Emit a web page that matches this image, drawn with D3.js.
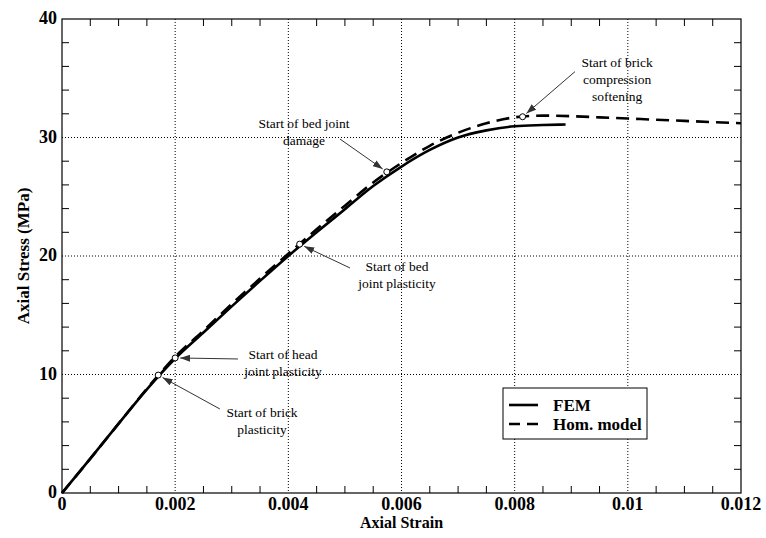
<!DOCTYPE html>
<html>
<head>
<meta charset="utf-8">
<script src="https://cdn.jsdelivr.net/npm/d3@7"></script>
<style>
  body { margin: 0; background: #fff; }
  svg { display: block; }
  text { font-family: "Liberation Serif", "Times New Roman", serif; }
</style>
</head>
<body>
<svg></svg>
<script>
// FEM curve (solid)
const femStrain = [0, 0.0005, 0.001, 0.0015, 0.002, 0.0025, 0.003, 0.0035, 0.004, 0.0045, 0.005, 0.0055, 0.006, 0.0065, 0.007, 0.0075, 0.008, 0.0085, 0.0089];
const femStress = [0, 2.9, 5.85, 8.75, 11.35, 13.55, 15.75, 17.9, 20.0, 22.0, 23.95, 25.9, 27.55, 28.95, 30.0, 30.6, 30.95, 31.05, 31.1];

// homogenised model (dashed)
const homStrain = [0, 0.0005, 0.001, 0.0015, 0.002, 0.0025, 0.003, 0.0035, 0.004, 0.0045, 0.005, 0.0055, 0.006, 0.0065, 0.007, 0.0075, 0.008, 0.0085, 0.009, 0.0095, 0.01, 0.0105, 0.011, 0.0115, 0.012];
const homStress = [0, 2.9, 5.85, 8.8, 11.5, 13.7, 15.95, 18.1, 20.2, 22.25, 24.25, 26.2, 27.85, 29.3, 30.4, 31.2, 31.7, 31.85, 31.8, 31.7, 31.6, 31.5, 31.4, 31.3, 31.2];

// event markers
const eventStrain = [0.0017, 0.002, 0.0042, 0.00574, 0.00814];
const eventStress = [9.95, 11.4, 21.0, 27.1, 31.75];
const eventText = [
  ["Start of brick", "plasticity"],
  ["Start of head", "joint plasticity"],
  ["Start of bed", "joint plasticity"],
  ["Start of bed joint", "damage"],
  ["Start of brick", "compression", "softening"]
];

const xTicks = [0, 0.002, 0.004, 0.006, 0.008, 0.01, 0.012];
const xTickLabels = ["0", "0.002", "0.004", "0.006", "0.008", "0.01", "0.012"];
const yTicks = [0, 10, 20, 30, 40];
const legendNames = ["FEM", "Hom. model"];

// label placement (data units): text centre x, first line y, arrow tail x, y
const labelLayout = [
  [0.003535, 6.84, 0.00279, 7.09],
  [0.003906, 11.73, 0.00311, 11.31],
  [0.00592, 19.16, 0.00509, 18.99],
  [0.004277, 31.22, 0.004913, 29.87],
  [0.009809, 36.4, 0.009066, 35.56]
];

const svgWidth = 766, svgHeight = 538;
const margin = { top: 19, right: 25, bottom: 45, left: 62 };
const width = svgWidth - margin.left - margin.right;
const height = svgHeight - margin.top - margin.bottom;

const svg = d3.select("svg")
    .attr("width", svgWidth)
    .attr("height", svgHeight);

svg.append("defs").append("marker")
    .attr("id", "arrow")
    .attr("markerUnits", "userSpaceOnUse")
    .attr("viewBox", "0 0 10 7")
    .attr("refX", 10).attr("refY", 3.5)
    .attr("markerWidth", 10).attr("markerHeight", 7)
    .attr("orient", "auto")
    .append("path")
    .attr("d", "M0,0 L10,3.5 L0,7 Z")
    .attr("fill", "#333");

const g = svg.append("g")
    .attr("transform", "translate(" + margin.left + "," + margin.top + ")");

const x = d3.scaleLinear().domain([0, 0.012]).range([0, width]);
const y = d3.scaleLinear().domain([0, 40]).range([height, 0]);

// grid
g.selectAll(".vgrid")
    .data(xTicks.slice(1, -1))
    .enter().append("line")
    .attr("x1", d => x(d)).attr("x2", d => x(d))
    .attr("y1", 0).attr("y2", height)
    .attr("stroke", "#000").attr("stroke-width", 1)
    .attr("stroke-dasharray", "1,2");

g.selectAll(".hgrid")
    .data(yTicks.slice(1, -1))
    .enter().append("line")
    .attr("x1", 0).attr("x2", width)
    .attr("y1", d => y(d)).attr("y2", d => y(d))
    .attr("stroke", "#000").attr("stroke-width", 1)
    .attr("stroke-dasharray", "1,2");

// minor ticks on all four sides, pointing in
const xMinor = d3.range(0.0005, 0.012, 0.0005).filter(v => Math.abs(v / 0.002 - Math.round(v / 0.002)) > 1e-6);
const yMinor = d3.range(2, 40, 2).filter(v => v % 10 !== 0);
const tickLen = 7;

g.selectAll(".xt-b").data(xMinor).enter().append("line")
    .attr("x1", d => x(d)).attr("x2", d => x(d))
    .attr("y1", height).attr("y2", height - tickLen)
    .attr("stroke", "#000");
g.selectAll(".xt-t").data(xMinor).enter().append("line")
    .attr("x1", d => x(d)).attr("x2", d => x(d))
    .attr("y1", 0).attr("y2", tickLen)
    .attr("stroke", "#000");
g.selectAll(".yt-l").data(yMinor).enter().append("line")
    .attr("x1", 0).attr("x2", tickLen)
    .attr("y1", d => y(d)).attr("y2", d => y(d))
    .attr("stroke", "#000");
g.selectAll(".yt-r").data(yMinor).enter().append("line")
    .attr("x1", width).attr("x2", width - tickLen)
    .attr("y1", d => y(d)).attr("y2", d => y(d))
    .attr("stroke", "#000");

// frame
g.append("rect")
    .attr("width", width).attr("height", height)
    .attr("fill", "none").attr("stroke", "#000").attr("stroke-width", 1.2);

// tick labels
g.selectAll(".xl").data(xTicks).enter().append("text")
    .attr("x", d => x(d)).attr("y", height + 17)
    .attr("text-anchor", "middle")
    .attr("font-size", 18).attr("font-weight", "bold")
    .text((d, i) => xTickLabels[i]);

g.selectAll(".yl").data(yTicks).enter().append("text")
    .attr("x", -5).attr("y", d => y(d) + 5)
    .attr("text-anchor", "end")
    .attr("font-size", 18).attr("font-weight", "bold")
    .text(d => d);

// axis titles
g.append("text")
    .attr("x", width / 2).attr("y", height + 35)
    .attr("text-anchor", "middle")
    .attr("font-size", 16).attr("font-weight", "bold")
    .text("Axial Strain");

g.append("text")
    .attr("transform", "translate(" + (23 - margin.left) + "," + (height / 2) + ") rotate(-90)")
    .attr("dy", "0.35em")
    .attr("text-anchor", "middle")
    .attr("font-size", 17).attr("font-weight", "bold")
    .text("Axial Stress (MPa)");

// curves
const line = d3.line()
    .x(d => x(d[0]))
    .y(d => y(d[1]))
    .curve(d3.curveMonotoneX);

g.append("path")
    .datum(femStrain.map((v, i) => [v, femStress[i]]))
    .attr("fill", "none").attr("stroke", "#000")
    .attr("stroke-width", 2.6)
    .attr("d", line);

g.append("path")
    .datum(homStrain.map((v, i) => [v, homStress[i]]))
    .attr("fill", "none").attr("stroke", "#000")
    .attr("stroke-width", 2.6)
    .attr("stroke-dasharray", "13,7")
    .attr("d", line);

// annotations
eventText.forEach(function(lines, i) {
    const L = labelLayout[i];
    const tx = x(L[2]), ty = y(L[3]);
    const mx = x(eventStrain[i]), my = y(eventStress[i]);
    const dx = tx - mx, dy = ty - my, len = Math.sqrt(dx * dx + dy * dy);
    g.append("line")
        .attr("x1", tx).attr("y1", ty)
        .attr("x2", mx + dx / len * 5).attr("y2", my + dy / len * 5)
        .attr("stroke", "#333").attr("stroke-width", 1)
        .attr("marker-end", "url(#arrow)");

    g.append("text")
        .attr("text-anchor", "middle")
        .attr("font-size", 13.5)
        .selectAll("tspan").data(lines).enter().append("tspan")
        .attr("x", x(L[0]))
        .attr("y", (d, j) => y(L[1]) + 5 + j * 17)
        .text(d => d);
});

g.selectAll(".ev").data(eventStrain).enter().append("circle")
    .attr("cx", d => x(d))
    .attr("cy", (d, i) => y(eventStress[i]))
    .attr("r", 3)
    .attr("fill", "#fff").attr("stroke", "#000").attr("stroke-width", 1);

// legend
const lg = svg.append("g").attr("transform", "translate(503,388)");
lg.append("rect")
    .attr("width", 144).attr("height", 51)
    .attr("fill", "#fff").attr("stroke", "#000").attr("stroke-width", 1);
legendNames.forEach(function(name, i) {
    const ly = 17 + i * 19;
    lg.append("line")
        .attr("x1", 6).attr("x2", 35)
        .attr("y1", ly).attr("y2", ly)
        .attr("stroke", "#000").attr("stroke-width", 2.6)
        .attr("stroke-dasharray", i === 1 ? "11,7" : null);
    lg.append("text")
        .attr("x", 50).attr("y", ly + 6)
        .attr("font-size", 17).attr("font-weight", "bold")
        .text(name);
});
</script>
</body>
</html>
